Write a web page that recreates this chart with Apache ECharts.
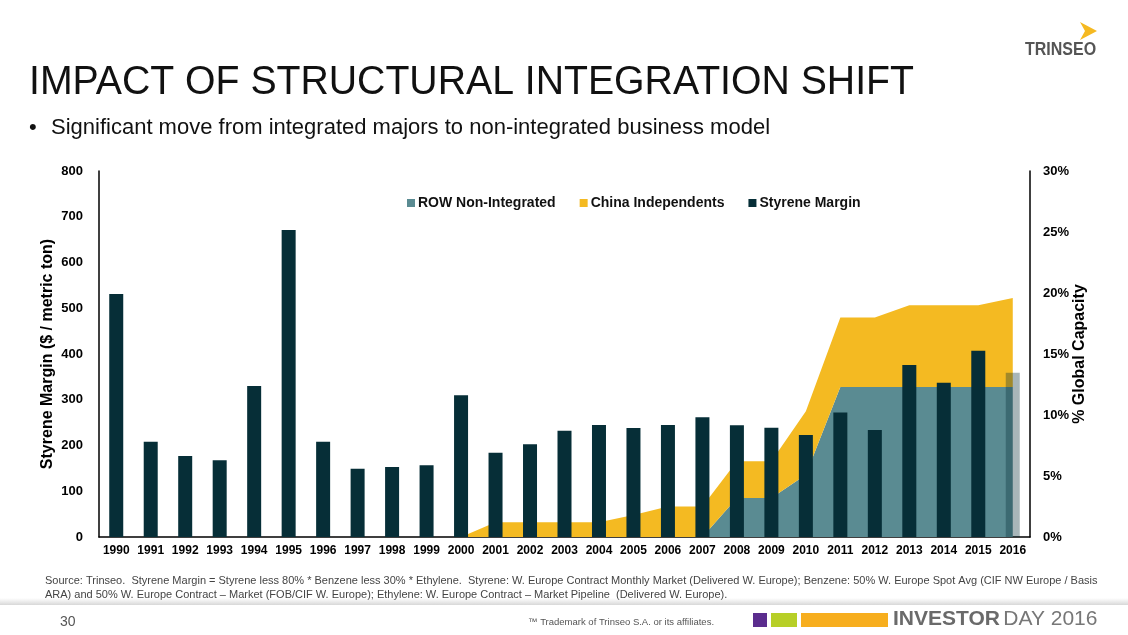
<!DOCTYPE html>
<html>
<head>
<meta charset="utf-8">
<script src="https://cdn.jsdelivr.net/npm/echarts@6/dist/echarts.min.js"></script>
<style>
	html, body { margin: 0; padding: 0; background: #fff; }
	#chart { width: 1128px; height: 635px; }
</style>
</head>
<body>
<div id="chart"></div>
<script>
const years = ["1990","1991","1992","1993","1994","1995","1996","1997","1998","1999","2000","2001","2002","2003","2004","2005","2006","2007","2008","2009","2010","2011","2012","2013","2014","2015","2016"];
// $ / metric ton
const styreneMargin = [531, 208, 177, 168, 330, 671, 208, 149, 153, 157, 310, 184, 203, 232, 245, 238, 245, 262, 244, 239, 223, 272, 234, 376, 337, 407, 359];
// % global capacity (stacked)
const rowNonIntegrated = [0,0,0,0,0,0,0,0,0,0,0,0,0,0,0,0,0,0, 3.2, 3.2, 5.1, 12.3, 12.3, 12.3, 12.3, 12.3, 12.3];
const chinaIndependents = [0,0,0,0,0,0,0,0,0,0,0, 1.2, 1.2, 1.2, 1.2, 1.8, 2.5, 2.5, 3.0, 3.0, 5.2, 5.7, 5.7, 6.7, 6.7, 6.7, 7.3];

const FONT = "Liberation Sans, Arial, sans-serif";
const chart = echarts.init(document.getElementById("chart"));

// 2016 is drawn see-through (estimate)
const marginData = styreneMargin.map((v, i) => {
	if (years[i] === "2016") return { value: v, itemStyle: { color: "rgba(6,46,55,0.35)" } };
	return v;
});

const option = {
	backgroundColor: "#fff",
	animation: false,
	textStyle: { fontFamily: FONT },
	grid: { left: 99, right: 98, top: 171, bottom: 98 },
	legend: {
		top: 191,
		left: 402,
		itemWidth: 8,
		itemHeight: 8,
		itemGap: 24,
		icon: "rect",
		textStyle: { fontSize: 14, fontWeight: "bold", color: "#111", fontFamily: FONT, padding: [0, 0, 0, -2] },
		data: ["ROW Non-Integrated", "China Independents", "Styrene Margin"]
	},
	xAxis: {
		type: "category",
		data: years,
		boundaryGap: true,
		axisLine: { lineStyle: { color: "#000", width: 1.5 } },
		axisTick: { show: false },
		axisLabel: { fontSize: 12, fontWeight: "bold", color: "#000", margin: 8, interval: 0 }
	},
	yAxis: [
		{
			type: "value",
			min: 0, max: 800, interval: 100,
			name: "Styrene Margin ($ / metric ton)",
			nameLocation: "middle",
			nameGap: 43,
			nameMoveOverlap: false,
			nameTextStyle: { fontSize: 16, fontWeight: "bold", color: "#000" },
			axisLine: { show: true, lineStyle: { color: "#000", width: 1.5 } },
			axisTick: { show: false },
			splitLine: { show: false },
			axisLabel: { fontSize: 13, fontWeight: "bold", color: "#000", margin: 16 }
		},
		{
			type: "value",
			position: "right",
			min: 0, max: 30, interval: 5,
			name: "% Global Capacity",
			nameLocation: "middle",
			nameGap: 42,
			nameRotate: 90,
			nameMoveOverlap: false,
			nameTextStyle: { fontSize: 16, fontWeight: "bold", color: "#000" },
			axisLine: { show: true, lineStyle: { color: "#000", width: 1.5 } },
			axisTick: { show: false },
			splitLine: { show: false },
			axisLabel: { fontSize: 13, fontWeight: "bold", color: "#000", margin: 13, formatter: "{value}%" }
		}
	],
	series: [
		{
			name: "ROW Non-Integrated",
			type: "line",
			yAxisIndex: 1,
			stack: "cap",
			data: rowNonIntegrated,
			symbol: "none",
			lineStyle: { width: 0 },
			itemStyle: { color: "#5a8b92" },
			areaStyle: { color: "#5a8b92", opacity: 1 },
			z: 1
		},
		{
			name: "China Independents",
			type: "line",
			yAxisIndex: 1,
			stack: "cap",
			data: chinaIndependents,
			symbol: "none",
			lineStyle: { width: 0 },
			itemStyle: { color: "#f4ba22" },
			areaStyle: { color: "#f4ba22", opacity: 1 },
			z: 1
		},
		{
			name: "Styrene Margin",
			type: "bar",
			yAxisIndex: 0,
			data: marginData,
			barWidth: 14,
			itemStyle: { color: "#062e37" },
			z: 3
		}
	],
	graphic: [
		// logo
		{
			type: "polygon",
			shape: { points: [[1080, 22], [1097, 31], [1080, 40], [1085, 31]] },
			style: { fill: "#f5b921" }
		},
		{
			type: "text", x: 1025, y: 41, scaleX: 0.89,
			style: { text: "TRINSEO", fill: "#555", font: "bold 18px " + FONT }
		},
		// headings
		{
			type: "text", x: 29, y: 63, scaleX: 0.98,
			style: { text: "IMPACT OF STRUCTURAL INTEGRATION SHIFT", fill: "#111", font: "40px " + FONT }
		},
		{
			type: "text", left: 29, top: 117,
			style: { text: "•", fill: "#111", font: "22px " + FONT }
		},
		{
			type: "text", left: 51, top: 117,
			style: { text: "Significant move from integrated majors to non-integrated business model", fill: "#111", font: "22px " + FONT }
		},
		// source note
		{
			type: "text", left: 45, top: 574,
			style: {
				text: "Source: Trinseo.  Styrene Margin = Styrene less 80% * Benzene less 30% * Ethylene.  Styrene: W. Europe Contract Monthly Market (Delivered W. Europe); Benzene: 50% W. Europe Spot Avg (CIF NW Europe / Basis\nARA) and 50% W. Europe Contract \u2013 Market (FOB/CIF W. Europe); Ethylene: W. Europe Contract \u2013 Market Pipeline  (Delivered W. Europe).",
				fill: "#444", font: "11px " + FONT, lineHeight: 14
			}
		},
		// footer
		{
			type: "rect", shape: { x: 0, y: 598, width: 1128, height: 7 },
			style: {
				fill: new echarts.graphic.LinearGradient(0, 0, 0, 1, [
					{ offset: 0, color: "rgba(220,220,220,0)" },
					{ offset: 1, color: "rgba(215,215,215,1)" }
				])
			}
		},
		{
			type: "text", left: 60, top: 615,
			style: { text: "30", fill: "#555", font: "14px " + FONT }
		},
		{
			type: "text", left: 528, top: 617,
			style: { text: "\u2122 Trademark of Trinseo S.A. or its affiliates.", fill: "#555", font: "9.5px " + FONT }
		},
		{ type: "rect", shape: { x: 753, y: 613, width: 14, height: 14 }, style: { fill: "#5b2d8e" } },
		{ type: "rect", shape: { x: 771, y: 613, width: 26, height: 14 }, style: { fill: "#b7cf27" } },
		{ type: "rect", shape: { x: 801, y: 613, width: 87, height: 14 }, style: { fill: "#f7ae1e" } },
		{
			type: "text", left: 893, top: 609,
			style: {
				text: "{b|INVESTOR} {n|DAY 2016}",
				rich: {
					b: { fill: "#6a6a6a", font: "bold 21px " + FONT },
					n: { fill: "#777", font: "21px " + FONT }
				}
			}
		}
	]
};

chart.setOption(option);
</script>
</body>
</html>
